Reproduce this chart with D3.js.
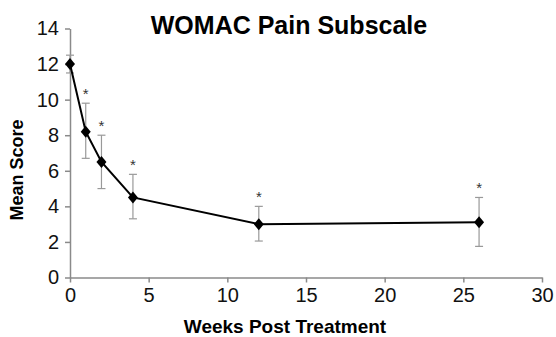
<!DOCTYPE html>
<html>
<head>
<meta charset="utf-8">
<script src="https://cdn.jsdelivr.net/npm/d3@7"></script>
<style>
  body { margin: 0; background: #fff; }
  text { font-family: "Liberation Sans", Arial, sans-serif; }
</style>
</head>
<body>
<script>
const weeks = [0, 1, 2, 4, 12, 26];
const meanScore = [12, 8.2, 6.5, 4.5, 3.0, 3.1];
const errUpper = [12.5, 9.8, 8.0, 5.8, 4.0, 4.5];
const errLower = [11.5, 6.7, 5.0, 3.3, 2.05, 1.75];
const significant = [false, true, true, true, true, true];
const xTicks = [0, 5, 10, 15, 20, 25, 30];
const yTicks = [0, 2, 4, 6, 8, 10, 12, 14];

const width = 556;
const height = 337;
const margin = { top: 28.5, right: 14, bottom: 59.5, left: 70 };

const data = weeks.map((w, i) => ({
  w, m: meanScore[i], hi: errUpper[i], lo: errLower[i], sig: significant[i]
}));

const svg = d3.select("body").append("svg")
  .attr("width", width)
  .attr("height", height);

const x = d3.scaleLinear()
  .domain([0, 30])
  .range([margin.left, width - margin.right]);

const y = d3.scaleLinear()
  .domain([0, 14])
  .range([height - margin.bottom, margin.top]);

const axisColor = "#8a8a8a";

const xAxis = svg.append("g")
  .attr("transform", `translate(0, ${y(0)})`)
  .call(d3.axisBottom(x).tickValues(xTicks).tickSize(5).tickSizeOuter(0).tickPadding(5));

const yAxis = svg.append("g")
  .attr("transform", `translate(${x(0)}, 0)`)
  .call(d3.axisLeft(y).tickValues(yTicks).tickSize(5).tickSizeOuter(0).tickPadding(6));

[xAxis, yAxis].forEach(g => {
  g.select(".domain").attr("stroke", axisColor).attr("stroke-width", 1.5);
  g.selectAll(".tick line").attr("stroke", axisColor).attr("stroke-width", 1.5);
  g.selectAll(".tick text")
    .attr("fill", "#111")
    .style("font-size", "20px")
    .style("font-family", "'Liberation Sans', Arial, sans-serif");
});

// error bars
const eb = svg.append("g").attr("stroke", "#999").attr("stroke-width", 1.2);
data.forEach(d => {
  eb.append("line").attr("x1", x(d.w)).attr("x2", x(d.w)).attr("y1", y(d.hi)).attr("y2", y(d.lo));
  eb.append("line").attr("x1", x(d.w) - 4).attr("x2", x(d.w) + 4).attr("y1", y(d.hi)).attr("y2", y(d.hi));
  eb.append("line").attr("x1", x(d.w) - 4).attr("x2", x(d.w) + 4).attr("y1", y(d.lo)).attr("y2", y(d.lo));
});

// line
svg.append("path")
  .datum(data)
  .attr("fill", "none")
  .attr("stroke", "#000")
  .attr("stroke-width", 2)
  .attr("d", d3.line().x(d => x(d.w)).y(d => y(d.m)));

// diamond markers
svg.selectAll(".marker")
  .data(data)
  .enter()
  .append("path")
  .attr("class", "marker")
  .attr("d", "M0,-6L5,0L0,6L-5,0Z")
  .attr("fill", "#000")
  .attr("transform", d => `translate(${x(d.w)}, ${y(d.m)})`);

// significance asterisks
svg.selectAll(".star")
  .data(data.filter(d => d.sig))
  .enter()
  .append("text")
  .attr("class", "star")
  .attr("x", d => x(d.w))
  .attr("y", d => y(d.hi) - 4)
  .attr("text-anchor", "middle")
  .attr("fill", "#333")
  .style("font-size", "15px")
  .text("*");

svg.append("text")
  .attr("x", 289)
  .attr("y", 34)
  .attr("text-anchor", "middle")
  .style("font-size", "25px")
  .style("font-weight", "bold")
  .text("WOMAC Pain Subscale");

svg.append("text")
  .attr("x", 285)
  .attr("y", 333)
  .attr("text-anchor", "middle")
  .style("font-size", "19px")
  .style("font-weight", "bold")
  .text("Weeks Post Treatment");

svg.append("text")
  .attr("transform", "translate(23, 170) rotate(-90)")
  .attr("text-anchor", "middle")
  .style("font-size", "18px")
  .style("font-weight", "bold")
  .text("Mean Score");
</script>
</body>
</html>
